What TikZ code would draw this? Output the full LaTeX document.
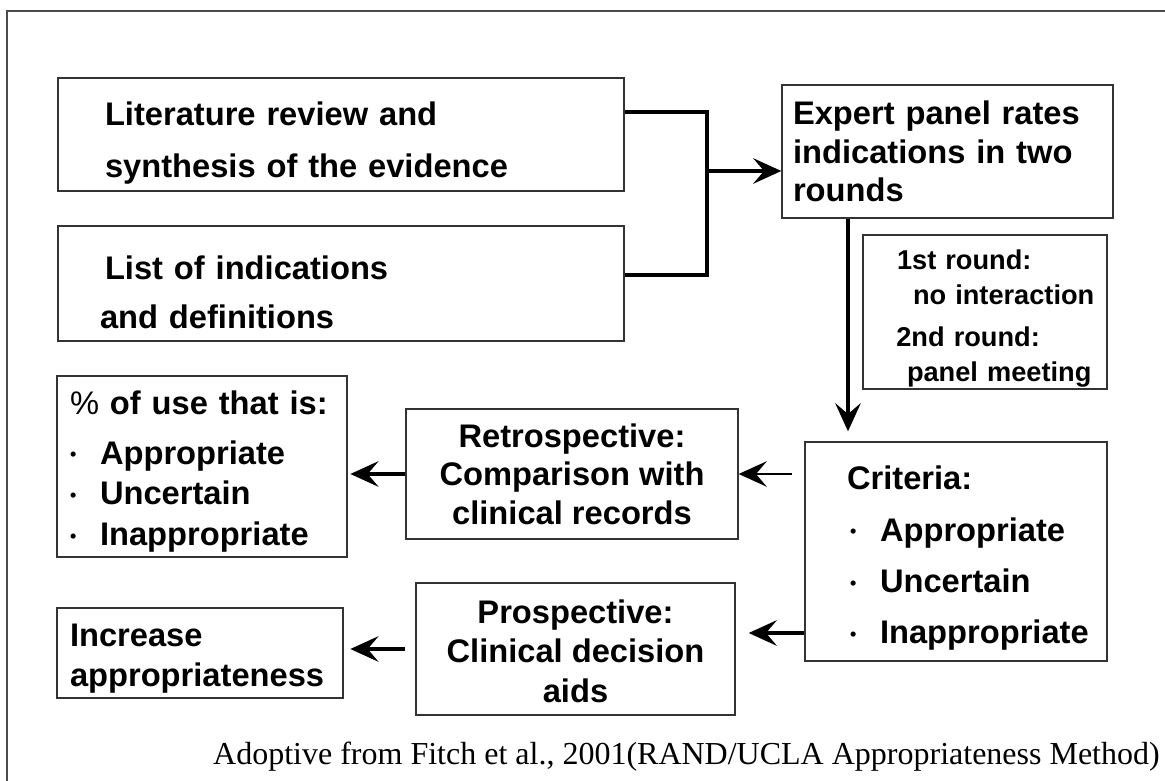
\documentclass[tikz,border=0pt]{standalone}
\usepackage{fontspec}
\setmainfont{Liberation Sans}
\newfontfamily\srcfont{Liberation Serif}
\usetikzlibrary{arrows.meta,positioning}
\newcommand{\itm}{\makebox[22.5pt][l]{\raisebox{0.1em}{\scalebox{0.55}{•}}}}
\newcommand{\lift}[1]{\rule{0pt}{#1}}

\begin{document}
\begin{tikzpicture}[x=0.75pt,y=-0.75pt,>={Stealth[length=21pt,width=19pt,inset=8pt]},
box/.style = {draw=black!80, line width=1pt, inner ysep=0pt, align=left},
link/.style = {->, line width=3.5pt},
bar/.style = {line width=3.5pt},
frame/.style = {draw=black!70, line width=1.2pt}]
\useasboundingbox (0,0) rectangle (1165,781);
\draw[frame] (7,781) -- (7,11) -- (1165,11);
% boxes
\node (lit) at (341,134.5)[box,minimum width=424.5pt,minimum height=84.75pt,inner xsep=35.25pt,text width=354pt,font=\bfseries\fontsize{24.5}{39}\selectfont] {\lift{30pt}Literature review and\\synthesis of the evidence};
\node (list) at (341,283.5)[box,minimum width=424.5pt,minimum height=86.25pt,inner xsep=31.5pt,text width=361.5pt,font=\bfseries\fontsize{24.5}{37}\selectfont] {\lift{31pt}\hspace*{3.75pt}List of indications\\and definitions};
\node (expert) at (947.5,151.5)[box,minimum width=248.25pt,minimum height=99.75pt,inner xsep=8.25pt,text width=231.75pt,font=\bfseries\fontsize{24.5}{29}\selectfont] {Expert panel rates\\indications in two\\rounds};
\node (rounds) at (985,312)[box,minimum width=183pt,minimum height=115.5pt,inner xsep=8pt,text width=167pt,font=\bfseries\fontsize{20.4}{26}\selectfont] {\lift{24.5pt}\hspace*{17.5pt}1st round:\\\hspace*{29.5pt}no~interaction\\[6pt]\hspace*{17pt}2nd round:\\\hspace*{25pt}panel~meeting};
\node (crit) at (956,551.5)[box,minimum width=226.5pt,minimum height=164.25pt,inner xsep=31.5pt,text width=163.5pt,font=\bfseries\fontsize{24.5}{38.5}\selectfont] {\lift{28pt}Criteria:\\\hspace*{2.25pt}\itm Appropriate\\\hspace*{2.25pt}\itm Uncertain\\\hspace*{2.25pt}\itm Inappropriate};
\node (retro) at (572,474)[box,minimum width=249pt,minimum height=97.5pt,align=center,font=\bfseries\fontsize{24.5}{29}\selectfont] {Retrospective:\\Comparison with\\clinical records};
\node (prosp) at (575.5,649)[box,minimum width=239.25pt,minimum height=99pt,align=center,font=\bfseries\fontsize{24.5}{29.5}\selectfont] {\lift{21pt}Prospective:\\Clinical decision\\aids};
\node (pct) at (202,466.5)[box,minimum width=217.5pt,minimum height=135.75pt,inner xsep=9.75pt,text width=198pt,font=\bfseries\fontsize{24.5}{30.5}\selectfont] {\lift{25pt}\textmd{\%} of use that is:\\[7pt]\itm Appropriate\\\itm Uncertain\\\itm Inappropriate};
\node (incr) at (200,653)[box,minimum width=214.5pt,minimum height=67.5pt,inner xsep=9.75pt,text width=195pt,font=\bfseries\fontsize{24.5}{30}\selectfont] {\lift{26pt}Increase\\appropriateness};
\node (src) at (1160,757)[anchor=east,inner sep=0pt,font=\srcfont\fontsize{24}{28}\selectfont] {Adoptive from Fitch et al., 2001(RAND/UCLA Appropriateness Method)};
% connectors
\coordinate (jtop) at (707,112);
\coordinate (jbot) at (707,275);
\coordinate (join) at (707,171);
\coordinate (dn) at (848,0);
\coordinate (pr) at (0,633);
\draw[bar] (lit.east |- jtop) -- (jtop) -- (jbot) -- (list.east |- jbot);
\draw[link] (join) -- (expert.west |- join);
\draw[link,shorten >=7.5pt] (expert.south -| dn) -- (crit.north -| dn);
\draw[link,line width=2.2pt,shorten <=9pt] (crit.west |- retro.east) -- (retro.east);
\draw[link,shorten >=2pt] (retro.west) -- (pct.east |- retro.west);
\draw[link,shorten >=9.75pt] (crit.west |- pr) -- (prosp.east |- pr);
\draw[link,shorten <=8pt,shorten >=5pt] (prosp.west) -- (incr.east |- prosp.west);
\end{tikzpicture}
\end{document}
